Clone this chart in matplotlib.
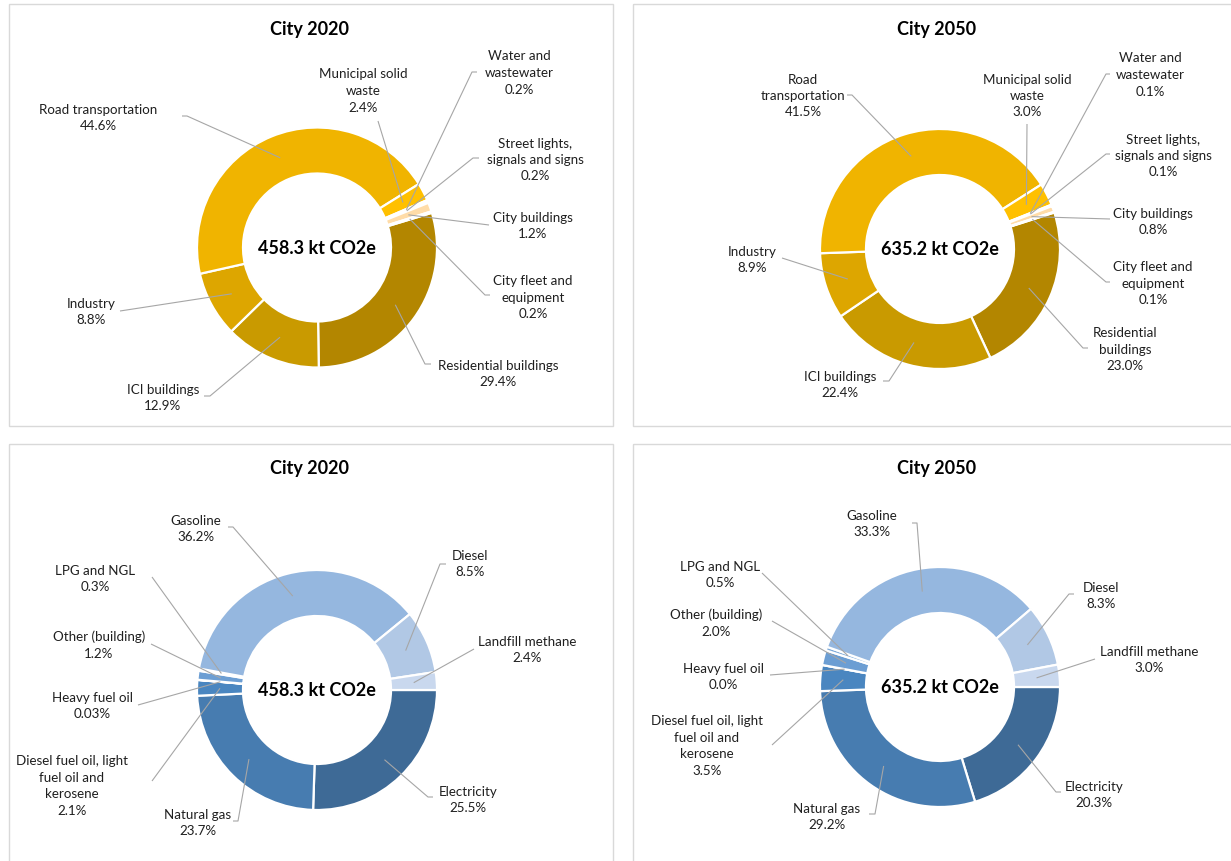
import numpy as np
import matplotlib
matplotlib.use("Agg")
import matplotlib.pyplot as plt
from matplotlib.patches import Rectangle

# ---- data ----
sector_names = ["Residential buildings", "ICI buildings", "Industry", "Road transportation",
                "Municipal solid waste", "Water and wastewater",
                "Street lights, signals and signs", "City buildings", "City fleet and equipment"]
sector_2020 = [29.4, 12.9, 8.8, 44.6, 2.4, 0.2, 0.2, 1.2, 0.2]
sector_2050 = [23.0, 22.4, 8.9, 41.5, 3.0, 0.1, 0.1, 0.8, 0.1]

fuel_names = ["Electricity", "Natural gas", "Diesel fuel oil, light fuel oil and kerosene",
              "Heavy fuel oil", "Other (building)", "LPG and NGL", "Gasoline", "Diesel",
              "Landfill methane"]
fuel_2020 = [25.5, 23.7, 2.1, 0.03, 1.2, 0.3, 36.2, 8.5, 2.4]
fuel_2050 = [20.3, 29.2, 3.5, 0.0, 2.0, 0.5, 33.3, 8.3, 3.0]

totals = {"2020": 458.3, "2050": 635.2}

# label text as wrapped in each chart
wrap_sector_2020 = ["Residential buildings", "ICI buildings", "Industry", "Road transportation",
                    "Municipal solid\nwaste", "Water and\nwastewater",
                    "Street lights,\nsignals and signs", "City buildings", "City fleet and\nequipment"]
wrap_sector_2050 = ["Residential\nbuildings", "ICI buildings", "Industry", "Road\ntransportation",
                    "Municipal solid\nwaste", "Water and\nwastewater",
                    "Street lights,\nsignals and signs", "City buildings", "City fleet and\nequipment"]
wrap_fuel = ["Electricity", "Natural gas", "Diesel fuel oil, light\nfuel oil and\nkerosene",
             "Heavy fuel oil", "Other (building)", "LPG and NGL", "Gasoline", "Diesel",
             "Landfill methane"]

# ---- styles / layout (pixel coords) ----
sector_colors = ["#B38600", "#C99A00", "#DDA600", "#F0B400", "#FFC000",
                 "#FFCC40", "#FFD670", "#FFDCA8", "#FFE6C0"]
fuel_colors = ["#3E6A96", "#477CB0", "#4A86C0", "#5590CA", "#6C9ED3",
               "#7EAAD8", "#95B7DF", "#B1C8E5", "#C9D8EE"]

W, H = 1231, 862
R_OUT, R_W = 120, 46
LINE_C = "#A6A6A6"

# (text x, text y, leader points after the anchor)
lay_tl = [(498, 374, [(425, 365), (431, 365)]),
          (163, 398, [(210, 397), (204, 397)]),
          (91, 312, [(120, 312)]),
          (98, 118, [(187, 117), (182, 117)]),
          (363, 91, [(378, 122)]),
          (519, 73, [(472, 73), (477, 73)]),
          (535, 160, [(473, 159), (479, 159)]),
          (533, 226, [(489, 226)]),
          (533, 298, [(485, 296), (490, 296)])]
lay_tr = [(1125, 350, [(1083, 349), (1088, 349)]),
          (840, 385, [(889, 382), (883, 382)]),
          (752, 260, [(782, 259)]),
          (803, 96, [(852, 96), (847, 96)]),
          (1027, 96, [(1027, 125)]),
          (1150, 75, [(1106, 75), (1110, 75)]),
          (1163, 156, [(1106, 155), (1110, 155)]),
          (1153, 222, [(1110, 220)]),
          (1153, 284, [(1106, 283), (1110, 283)])]
lay_bl = [(468, 800, [(428, 798), (433, 798)]),
          (198, 823, [(238, 822), (233, 822)]),
          (72, 786, [(152, 782)]),
          (92, 706, [(138, 706)]),
          (99, 645, [(151, 645)]),
          (95, 579, [(152, 578)]),
          (196, 529, [(233, 528), (228, 528)]),
          (470, 564, [(440, 565), (446, 565)]),
          (527, 650, [(474, 650)])]
lay_br = [(1094, 795, [(1056, 793), (1061, 793)]),
          (827, 817, [(875, 815), (869, 815)]),
          (707, 746, [(772, 746)]),
          (723, 677, [(770, 676)]),
          (716, 623, [(772, 622)]),
          (720, 575, [(762, 574)]),
          (872, 524, [(917, 524), (912, 524)]),
          (1101, 596, [(1069, 595), (1074, 595)]),
          (1149, 660, [(1095, 660)])]

panels = [
    # box, center, start angle (clockwise from 3 o'clock), title, year, values, labels, colors, layout
    ((8.5, 5, 604, 422), (317, 248.5), -16.8, "City 2020", "2020", sector_2020, wrap_sector_2020, sector_colors, lay_tl),
    ((633, 5, 610, 422), (940, 250), -17.7, "City 2050", "2050", sector_2050, wrap_sector_2050, sector_colors, lay_tr),
    ((8.5, 445, 604, 430), (317, 691), 0, "City 2020", "2020", fuel_2020, wrap_fuel, fuel_colors, lay_bl),
    ((633, 445, 610, 430), (940, 688), 0, "City 2050", "2050", fuel_2050, wrap_fuel, fuel_colors, lay_br),
]

plt.rcParams['font.family'] = ["Lato", "DejaVu Sans"]


def pct_text(v):
    if 0 < v < 0.1:
        return f"{v:.2f}%"
    return f"{v:.1f}%"


fig = plt.figure(figsize=(W / 100, H / 100), dpi=100)
ax = fig.add_axes([0, 0, 1, 1])

for box, (cx, cy), start, title, year, values, labels, colors, lay in panels:
    ax.add_patch(Rectangle((box[0], box[1]), box[2], box[3], fill=False,
                           edgecolor="#D9D9D9", linewidth=1.0))
    # y axis is inverted, so counterclock=True draws clockwise on screen
    wedges, _ = ax.pie(values, colors=colors, startangle=start, counterclock=True,
                       radius=R_OUT, center=(cx, cy), frame=True,
                       wedgeprops=dict(width=R_W, edgecolor="white", linewidth=1.6))
    ax.text(cx, cy, f"{totals[year]} kt CO2e", ha="center", va="center",
            fontsize=13, fontweight="bold", color="black")
    ax.text(box[0] + box[2] / 2 - 1, box[1] + 24, title, ha="center", va="center",
            fontsize=13, fontweight="bold")
    for w, v, lab, (tx, ty, pts) in zip(wedges, values, labels, lay):
        mid = np.deg2rad((w.theta1 + w.theta2) / 2)
        r_mid = R_OUT - R_W / 2
        ax0, ay0 = cx + r_mid * np.cos(mid), cy + r_mid * np.sin(mid)
        xs = [ax0] + [p[0] for p in pts]
        ys = [ay0] + [p[1] for p in pts]
        ax.plot(xs, ys, color=LINE_C, linewidth=0.8, solid_capstyle="butt")
        ax.text(tx, ty, f"{lab}\n{pct_text(v)}", ha="center", va="center",
                multialignment="center", fontsize=9.6, linespacing=1.45, color="#1F1F1F")

ax.set_xlim(0, W)
ax.set_ylim(H, 0)
ax.axis("off")

fig.savefig("out.png", dpi=100, facecolor="white")
